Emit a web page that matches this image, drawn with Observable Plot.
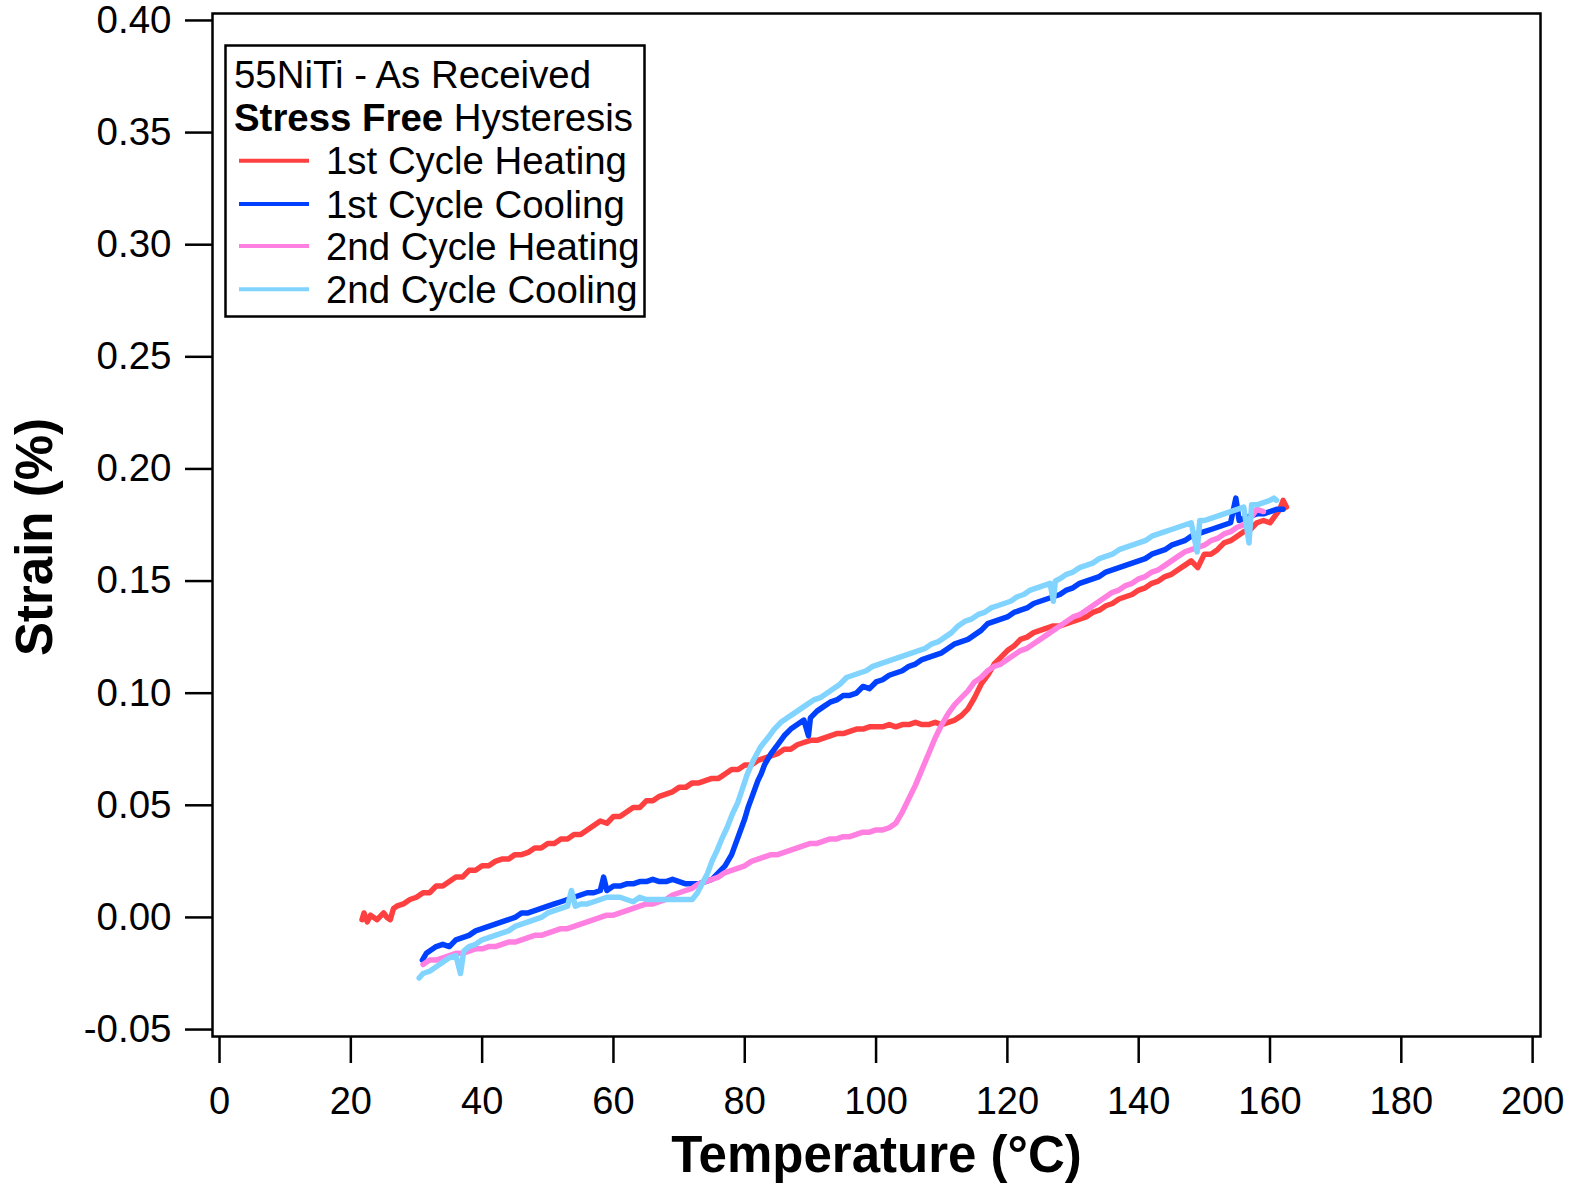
<!DOCTYPE html>
<html>
<head>
<meta charset="utf-8">
<script src="https://cdn.jsdelivr.net/npm/d3@7"></script>
<script src="https://cdn.jsdelivr.net/npm/@observablehq/plot@0.6"></script>
<style>
  html, body { margin: 0; padding: 0; background: white; }
  svg { display: block; }
</style>
</head>
<body>
<div id="chart"></div>
<script>
// ---- Data ----
const seriesNames = ["1st Cycle Heating", "1st Cycle Cooling", "2nd Cycle Heating", "2nd Cycle Cooling"];
const seriesColors = ["#ff4040", "#0040ff", "#ff80e0", "#80d4ff"];
const xTicks = [0, 20, 40, 60, 80, 100, 120, 140, 160, 180, 200];
const yTicks = [-0.05, 0, 0.05, 0.10, 0.15, 0.20, 0.25, 0.30, 0.35, 0.40];
const legendTitle1 = "55NiTi - As Received";
const legendTitle2Bold = "Stress Free";
const legendTitle2Rest = " Hysteresis";
const xLabel = "Temperature (°C)";
const yLabel = "Strain (%)";

// 1st Cycle Heating
const heat1T = [21.7,22,22.5,23,24,25,25.5,26,26.5,27,28,29,30,31,32,33,34,35,36,37,38,39,40,41,42,43,44,45,46,47,48,49,50,51,52,53,54,55,56,57,58,59,60,61,62,63,64,65,66,67,68,69,70,71,72,73,74,75,76,77,78,79,80,81,82,83,84,85,86,87,88,89,90,91,92,93,94,95,96,97,98,99,100,101,102,103,104,105,106,107,108,109,110,111,112,113,114,115,116,117,118,119,120,121,122,123,124,125,126,127,128,129,130,131,132,133,134,135,136,137,138,139,140,141,142,143,144,145,146,147,148,149,150,151,152,153,154,155,156,157,158,159,160,161,161.5,162,162.5];
const heat1S = [-0.001,0.002,-0.002,0.001,-0.001,0.002,0.000,-0.001,0.004,0.005,0.006,0.008,0.009,0.011,0.011,0.014,0.014,0.016,0.018,0.018,0.021,0.021,0.023,0.023,0.025,0.026,0.026,0.028,0.028,0.029,0.031,0.031,0.033,0.033,0.035,0.035,0.037,0.037,0.039,0.041,0.043,0.042,0.045,0.045,0.047,0.049,0.049,0.052,0.052,0.054,0.055,0.056,0.058,0.058,0.060,0.060,0.061,0.062,0.062,0.064,0.066,0.066,0.068,0.068,0.070,0.071,0.072,0.073,0.075,0.075,0.077,0.078,0.079,0.079,0.080,0.081,0.082,0.082,0.083,0.084,0.084,0.085,0.085,0.085,0.086,0.085,0.086,0.086,0.087,0.086,0.086,0.087,0.086,0.087,0.088,0.090,0.093,0.098,0.104,0.108,0.113,0.116,0.119,0.121,0.124,0.125,0.127,0.128,0.129,0.130,0.130,0.131,0.132,0.133,0.134,0.136,0.137,0.139,0.140,0.142,0.143,0.144,0.146,0.147,0.149,0.150,0.152,0.153,0.155,0.157,0.159,0.156,0.162,0.162,0.164,0.167,0.168,0.170,0.172,0.173,0.176,0.177,0.176,0.180,0.182,0.186,0.183];

// 1st Cycle Cooling
const cool1T = [30.9,31.5,32,33,34,35,36,37,38,39,40,41,42,43,44,45,46,47,48,49,50,51,52,53,54,55,56,57,58,58.5,59,60,61,62,63,64,65,66,67,68,69,70,71,72,73,74,75,76,77,78,78.5,79,79.5,80,80.5,81,81.5,82,82.5,83,84,85,86,87,88,89,89.7,90,91,92,93,94,95,96,97,98,99,100,101,102,103,104,105,106,107,108,109,110,111,112,113,114,115,116,117,118,119,120,121,122,123,124,125,126,127,128,129,130,131,132,133,134,135,136,137,138,139,140,141,142,143,144,145,146,147,148,149,150,151,152,153,154,154.8,155.3,156,157,158,159,160,161,162];
const cool1S = [-0.019,-0.016,-0.015,-0.013,-0.012,-0.013,-0.010,-0.009,-0.008,-0.006,-0.005,-0.004,-0.003,-0.002,-0.001,0.000,0.002,0.002,0.003,0.004,0.005,0.006,0.007,0.008,0.009,0.010,0.011,0.011,0.012,0.018,0.012,0.014,0.014,0.015,0.015,0.016,0.016,0.017,0.016,0.016,0.017,0.016,0.015,0.015,0.015,0.016,0.017,0.020,0.023,0.028,0.032,0.036,0.040,0.044,0.049,0.053,0.057,0.061,0.064,0.068,0.073,0.077,0.081,0.084,0.086,0.088,0.081,0.089,0.092,0.094,0.096,0.097,0.099,0.099,0.100,0.103,0.102,0.105,0.106,0.108,0.109,0.110,0.112,0.113,0.115,0.116,0.117,0.118,0.120,0.122,0.123,0.124,0.126,0.128,0.131,0.132,0.133,0.134,0.136,0.137,0.138,0.140,0.141,0.142,0.143,0.144,0.146,0.147,0.149,0.150,0.151,0.152,0.154,0.155,0.156,0.157,0.158,0.159,0.160,0.162,0.163,0.164,0.166,0.167,0.168,0.170,0.171,0.172,0.173,0.174,0.175,0.176,0.187,0.177,0.178,0.179,0.180,0.180,0.181,0.182,0.182];

// 2nd Cycle Heating
const heat2T = [31,32,33,34,35,36,37,38,39,40,41,42,43,44,45,46,47,48,49,50,51,52,53,54,55,56,57,58,59,60,61,62,63,64,65,66,67,68,69,70,71,72,73,74,75,76,77,78,79,80,81,82,83,84,85,86,87,88,89,90,91,92,93,94,95,96,97,98,99,100,101,102,103,104,105,106,107,108,109,110,111,112,113,114,115,116,117,118,119,120,121,122,123,124,125,126,127,128,129,130,131,132,133,134,135,136,137,138,139,140,141,142,143,144,145,146,147,148,149,150,151,152,153,154,155,156,157,158,159];
const heat2S = [-0.021,-0.019,-0.019,-0.018,-0.017,-0.016,-0.016,-0.015,-0.014,-0.014,-0.013,-0.013,-0.012,-0.011,-0.011,-0.010,-0.009,-0.008,-0.008,-0.007,-0.006,-0.005,-0.005,-0.004,-0.003,-0.002,-0.001,0.000,0.001,0.001,0.002,0.003,0.004,0.005,0.006,0.006,0.007,0.008,0.010,0.011,0.012,0.013,0.015,0.016,0.017,0.018,0.020,0.021,0.022,0.023,0.025,0.026,0.027,0.028,0.028,0.029,0.030,0.031,0.032,0.033,0.033,0.034,0.035,0.035,0.036,0.036,0.037,0.038,0.038,0.039,0.039,0.040,0.042,0.047,0.053,0.059,0.066,0.073,0.080,0.086,0.091,0.095,0.098,0.101,0.105,0.107,0.110,0.112,0.113,0.115,0.117,0.119,0.120,0.122,0.124,0.126,0.128,0.130,0.132,0.134,0.135,0.137,0.139,0.141,0.143,0.145,0.146,0.148,0.149,0.151,0.152,0.154,0.155,0.157,0.159,0.161,0.163,0.164,0.165,0.166,0.168,0.169,0.171,0.172,0.174,0.175,0.178,0.182,0.181];

// 2nd Cycle Cooling
const cool2T = [30.4,31,32,33,34,35,36,36.7,37.2,38,39,40,41,42,43,44,45,46,47,48,49,50,51,52,53,53.6,54.2,55,56,57,58,59,60,61,62,63,64,65,66,67,68,69,70,71,72,72.8,73.5,74.3,75,75.8,76.5,77.3,78.1,78.9,79.6,80.4,81.3,82.4,83.5,84.5,85.5,86.5,87.5,88.5,89.5,90.5,91.5,92.5,93.5,94.5,95.5,96.5,97.5,98.5,99.5,100.5,101.5,102.5,103.5,104.5,105.5,106.5,107.5,108.5,109.5,110.5,111.5,112.5,113.5,114.5,115.5,116.5,117.5,118.5,119.5,120.5,121.5,122.5,123.5,124.5,125.5,126.5,127,127.3,128,129,130,131,132,133,134,135,136,137,138,139,140,141,142,143,144,145,146,147,148,148.9,149.3,150,151,152,153,154,155,156,156.8,157.2,158,159,160,160.6,161];
const cool2S = [-0.027,-0.025,-0.024,-0.022,-0.020,-0.018,-0.017,-0.025,-0.015,-0.013,-0.012,-0.010,-0.009,-0.008,-0.007,-0.006,-0.004,-0.003,-0.002,-0.001,0.000,0.002,0.003,0.004,0.005,0.012,0.005,0.006,0.006,0.007,0.008,0.009,0.009,0.009,0.008,0.007,0.009,0.008,0.008,0.008,0.008,0.008,0.008,0.008,0.008,0.011,0.015,0.0195,0.025,0.030,0.035,0.040,0.046,0.051,0.057,0.064,0.070,0.076,0.080,0.084,0.087,0.089,0.091,0.093,0.095,0.097,0.098,0.100,0.102,0.104,0.107,0.108,0.109,0.110,0.112,0.113,0.114,0.115,0.116,0.117,0.118,0.119,0.120,0.122,0.123,0.125,0.127,0.130,0.132,0.133,0.135,0.136,0.138,0.139,0.140,0.141,0.143,0.144,0.146,0.147,0.148,0.149,0.141,0.150,0.151,0.153,0.154,0.156,0.157,0.158,0.160,0.161,0.162,0.164,0.165,0.166,0.167,0.168,0.170,0.171,0.172,0.173,0.174,0.175,0.176,0.163,0.177,0.177,0.178,0.179,0.180,0.181,0.182,0.183,0.167,0.184,0.184,0.185,0.186,0.187,0.186];

// ---- Build table ----
const seriesT = [heat1T, cool1T, heat2T, cool2T];
const seriesS = [heat1S, cool1S, heat2S, cool2S];
const rows = [];
seriesNames.forEach((name, k) => {
  seriesT[k].forEach((t, i) => rows.push({series: name, T: t, S: seriesS[k][i]}));
});

const FONT = "'Liberation Sans', Arial, Helvetica, sans-serif";

const chart = Plot.plot({
  width: 1575,
  height: 1183,
  marginLeft: 212,
  marginRight: 35,
  marginTop: 13,
  marginBottom: 147,
  style: {fontFamily: FONT, fontSize: "38px", background: "white", color: "black"},
  x: {domain: [-1.07, 201.2]},
  y: {domain: [-0.0531, 0.4031]},
  color: {domain: seriesNames, range: seriesColors},
  marks: [
    Plot.line(rows, {x: "T", y: "S", z: "series", stroke: "series", strokeWidth: 5.5, strokeLinejoin: "round", strokeLinecap: "round"}),
    Plot.frame({stroke: "black", strokeWidth: 2.5}),
    Plot.axisX({ticks: xTicks, tickSize: 27, tickPadding: 24, tickFormat: d => String(d), fontSize: 38, strokeWidth: 2.5, label: null}),
    Plot.axisY({ticks: yTicks, tickSize: 27, tickPadding: 14, tickFormat: d => d.toFixed(2).replace("\u2212", "-"), fontSize: 38.5, strokeWidth: 2.5, label: null}),
    Plot.text([xLabel], {frameAnchor: "bottom", dy: 119, lineAnchor: "middle", textAnchor: "middle", fontSize: 51, fontWeight: "bold"}),
    Plot.text([yLabel], {frameAnchor: "left", dx: -177, dy: 12, rotate: -90, lineAnchor: "middle", textAnchor: "middle", fontSize: 51, fontWeight: "bold"})
  ]
});

document.getElementById("chart").appendChild(chart);

// ---- Legend (inside the frame, upper-left) ----
const svg = d3.select(chart);
const lg = svg.append("g").attr("font-family", FONT).attr("font-size", 38.4)
  .attr("fill", "black").attr("text-anchor", "start");
lg.append("rect").attr("x", 225.5).attr("y", 45.5).attr("width", 419).attr("height", 271)
  .attr("fill", "white").attr("stroke", "black").attr("stroke-width", 2.5);
lg.append("text").attr("x", 234).attr("y", 88).text(legendTitle1);
const t2 = lg.append("text").attr("x", 234).attr("y", 131);
t2.append("tspan").attr("font-weight", "bold").text(legendTitle2Bold);
t2.append("tspan").text(legendTitle2Rest);
const centers = [160.7, 203.9, 246, 289.3];
seriesNames.forEach((name, i) => {
  lg.append("line").attr("x1", 239).attr("x2", 309).attr("y1", centers[i]).attr("y2", centers[i])
    .attr("stroke", seriesColors[i]).attr("stroke-width", 4);
  lg.append("text").attr("x", 326).attr("y", centers[i] + 13.7).text(name);
});
</script>
</body>
</html>
